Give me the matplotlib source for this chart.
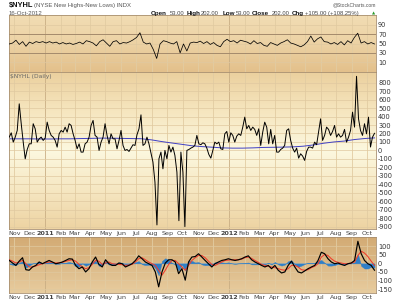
import numpy as np
import pandas as pd
import matplotlib
matplotlib.use('Agg')
import matplotlib.pyplot as plt
import matplotlib.dates as mdates
from matplotlib.colors import LinearSegmentedColormap

# ---------------- data ----------------
start_date = '2010-10-22'
end_date = '2012-10-16'

nyhl = [157, 208, 98, 157, 236, 550, 315, 98, -99, 11, 78, 78, 315, 255, 98, 137, 157, 118, 145, 334,
        236, 177, 157, 118, 39, 196, 236, 216, 275, 216, 315, 295, 196, 118, 19, 78, -20, -20, 78, 98,
        157, 295, 354, 177, 157, 0, 98, 157, 315,
        177, 78, 196, 137, 137, 19, 118, 236, 59, 0, 11, -12, 27, 67, 59, 185, 255, 420, 59, 78,
        157, 78, -28, -138, -374, -880, -99, -20, -217, 0, -99, 59, -20, 39, -59, -256, -830, -20, -256, -900,
        0, 11, 27, 39, 59, 177,
        78, 67, 90, 78, 27, -48, -91, 0, 98, 78, 98, 19, 11, 196, 224, 98, 208, 177, 98, 169,
        196, 177, 275, 393, 255, 295, 236, 275, 248, 177, 255, 59, 216, 334, 275, 78, 248, 78, 177, -20,
        -20, 11, 27, 59, 236,
        255, 118, 27, -20, 27, -91, -40, -67, -118, -12, 39, 39, 27, 98, 67, 216, 373, 118, 177, 275,
        248, 177, 224, 295, 157, 196, 157, 177, 248, 98, 157, 236, 452, 275, 875, 373, 236, 177, 315, 196,
        393, 40, 157, 202]

nyhl_ma = [137, 137, 137, 135, 135, 137, 137, 140, 142, 145, 145, 142, 140, 138, 125, 105, 88, 72, 55,
           45, 38, 30, 27, 27, 30, 35, 37, 39, 42, 50, 65, 85, 100, 110, 128, 140, 148]

rsi = [49, 51, 57, 48, 54, 44, 53, 50, 54, 52, 54, 51, 54, 51, 53, 49, 52, 49, 51, 48,
       50, 53, 49, 56, 54, 51, 45, 54, 58, 51, 44, 54, 56, 49, 52, 51, 54, 58, 63, 73,
       53, 49, 51, 37, 18, 49, 56, 54, 51, 49, 54, 30, 49, 34, 51, 53, 52, 55,
       50, 54, 48, 52, 46, 43, 54, 59, 54, 56, 51, 57, 55, 53, 49, 56, 50, 52, 46, 44,
       52, 49, 46, 51, 54, 58, 51, 49, 46, 43, 47, 54, 66, 53, 60, 64, 54, 53, 49, 52,
       48, 54, 47, 56, 51, 63, 72, 51, 54, 49, 52, 49]

macd = [17, 2, -12, 13, 33, -37, -40, -21, -12, 8, -2, 8, 17, 8, -2, 2, 8, 17, 27, 25,
        -12, -31, -21, -50, -31, 8, 37, -6, -21, 21, -2, -12, -12, 2, -2, -21, -12, -2, 17, 44,
        27, 8, -2, -12, -50, -137, -50, 2, 21, 21, 8, -60, -31, -98, 8, 37, 40, 56,
        37, 17, -2, -21, -2, 8, 17, 21, 27, 21, 17, 21, 27, 37, 44, 21, 8, -2, -12, -21,
        -12, -31, -12, -40, -56, -50, -12, 13, -21, -50, -56, -44, -31, -21, -12, 17, 65, 56, 27, 8,
        -2, 2, -6, -12, -2, 2, 17, 129, 56, 17, -2, -12, -40]

signal = [21, 13, 2, 8, 17, -2, -21, -21, -15, -8, -2, 4, 8, 6, 2, 4, 6, 12, 17, 21,
          13, -6, -21, -31, -25, -6, 17, 13, -6, 2, 8, -2, -4, -6, -8, -12, -10, -6, 8, 27,
          33, 21, 8, -2, -12, -40, -69, -40, -6, 17, 17, -2, -21, -40, -12, 17, 33, 46,
          46, 33, 13, -6, -12, -2, 8, 17, 19, 21, 21, 21, 25, 33, 37, 29, 17, 6, -6, -12,
          -17, -21, -25, -31, -37, -40, -31, -12, -12, -21, -37, -40, -37, -25, -17, -2, 37, 52, 46, 27,
          13, 6, 2, -2, -2, 2, 8, 46, 71, 60, 40, 13, -12]

hist = [-3, -8, -10, 4, 12, -25, -14, 0, 2, 12, 0, 3, 7, 2, -3, -2, 2, 4, 8, 3,
        -18, -18, 0, -14, -5, 10, 15, -14, -11, 14, -7, -7, -6, 6, 4, -7, -2, 3, 7, 13,
        -5, -10, -8, -8, -28, -70, 14, 30, 20, 3, -7, -42, -8, -42, 15, 15, 5, 8,
        -6, -11, -10, -10, 7, 7, 6, 3, 6, 0, -3, 0, 1, 3, 5, -6, -6, -6, -4, -6,
        4, -7, 9, -6, -13, -7, 13, 18, -6, -20, -13, -3, 4, 3, 4, 13, 20, 3, -13, -13,
        -10, -3, -6, -7, 0, 0, 6, 55, -15, -30, -30, -20, -25]

month_labels = ['Nov', 'Dec', '2011', 'Feb', 'Mar', 'Apr', 'May', 'Jun', 'Jul', 'Aug', 'Sep', 'Oct',
                'Nov', 'Dec', '2012', 'Feb', 'Mar', 'Apr', 'May', 'Jun', 'Jul', 'Aug', 'Sep', 'Oct']
main_ticks = list(range(-900, 801, 100))
rsi_ticks = [10, 30, 50, 70, 90]
macd_ticks = [-150, -100, -50, 0, 50, 100]

# ---------------- figure ----------------
W, H = 400, 303
fig = plt.figure(figsize=(W / 100, H / 100), dpi=100)
fig.patch.set_facecolor('white')


def px_axes(x0, y0, x1, y1):
    return fig.add_axes([x0 / W, 1 - y1 / H, (x1 - x0) / W, (y1 - y0) / H])


s = mdates.date2num(pd.Timestamp(start_date))
e = mdates.date2num(pd.Timestamp(end_date))


def xs(n):
    return np.linspace(s, e, n)


month_starts = mdates.date2num(pd.date_range('2010-11-01', '2012-10-01', freq='MS'))
year_starts = mdates.date2num(pd.to_datetime(['2011-01-01', '2012-01-01']))


def gradient(ax, stops):
    cmap = LinearSegmentedColormap.from_list('g', stops)
    grad = np.linspace(1, 0, 256).reshape(-1, 1)
    ax.imshow(grad, cmap=cmap, aspect='auto', extent=[0, 1, 0, 1],
              transform=ax.transAxes, zorder=0, interpolation='bilinear')


def style(ax, ylim, yticks, grid_h, xlabels=True):
    ax.set_xlim(s - 0.5, e + 3)
    ax.set_ylim(*ylim)
    for m in month_starts:
        c = '#c9ae84' if m in year_starts else '#e2cca2'
        ax.axvline(m, color=c, lw=0.6, zorder=1)
    for g in grid_h:
        ax.axhline(g, color='#e0c9a0', lw=0.5, zorder=1)
    ax.yaxis.tick_right()
    ax.set_yticks(yticks)
    ax.set_yticklabels([str(t) for t in yticks])
    ax.tick_params(axis='y', labelsize=4.8, pad=1.5, length=0, colors='#333333')
    ax.set_xticks(month_starts)
    if xlabels:
        ax.set_xticklabels(month_labels)
        for lab in ax.get_xticklabels():
            if lab.get_text().startswith('20'):
                lab.set_fontweight('bold')
                lab.set_color('#111111')
                lab.set_fontsize(5.3)
    else:
        ax.set_xticklabels([])
    ax.tick_params(axis='x', labelsize=4.6, pad=1.2, length=0, colors='#444444')
    for sp in ax.spines.values():
        sp.set_color('#a88f70')
        sp.set_linewidth(0.6)


# RSI panel
ax1 = px_axes(9, 15, 376, 72)
gradient(ax1, ['#e3c08b', '#ecd2a4', '#f2ddb4'])
style(ax1, (-11, 111), rsi_ticks, [10, 50, 90], xlabels=False)
ax1.axhline(70, color='#a48a6c', lw=0.7, zorder=1)
ax1.axhline(30, color='#a48a6c', lw=0.7, zorder=1)
ax1.plot(xs(len(rsi)), rsi, color='black', lw=0.55, zorder=3)

# Main panel
ax2 = px_axes(9, 72, 376, 229)
gradient(ax2, ['#edd3a2', '#f6e7c2', '#fcf8df', '#f6e6bf', '#ebd09e'])
style(ax2, (-928, 926), main_ticks, main_ticks)
ax2.plot(xs(len(nyhl_ma)), nyhl_ma, color='#3f3fc4', lw=0.7, zorder=2)
ax2.plot(xs(len(nyhl)), nyhl, color='black', lw=0.7, zorder=3)
ax2.text(0.004, 0.985, '$NYHL (Daily)', transform=ax2.transAxes, fontsize=4.3,
         color='#666666', va='top', ha='left', zorder=4)

# MACD panel
ax3 = px_axes(9, 237, 376, 293)
gradient(ax3, ['#e8cc9e', '#dcba88', '#d3ab74'])
style(ax3, (-173, 154), macd_ticks, macd_ticks)
xm = xs(len(hist))
ax3.fill_between(xm, 0, hist, color='#2f7fc8', lw=0.3, zorder=2)
ax3.plot(xs(len(signal)), signal, color='#f03c2c', lw=0.75, zorder=3)
ax3.plot(xs(len(macd)), macd, color='black', lw=0.85, zorder=4)

# ---------------- header text ----------------
HF = 'Liberation Sans'


def t(x, y, txt, **kw):
    fig.text(x / W, 1 - y / H, txt, va='center', family=HF, **kw)


t(9, 5.5, '$NYHL', fontsize=5.4, fontweight='bold', color='#111111')
t(34, 5.5, '(NYSE New Highs-New Lows) INDX', fontsize=4.3, color='#555555')
t(9, 13.5, '16-Oct-2012', fontsize=4.4, color='#555555')
t(376, 5, '@StockCharts.com', fontsize=3.6, color='#555555', ha='right')
parts = [(151, 'Open', True), (169.5, '53.00', False), (186.5, 'High', True), (201, '202.00', False),
         (222.5, 'Low', True), (235.5, '53.00', False), (252, 'Close', True), (271.5, '202.00', False),
         (292, 'Chg', True), (305, '+105.00 (+108.25%)', False)]
for x, txt, b in parts:
    t(x, 13.5, txt, fontsize=4.5 if b else 4.2, fontweight='bold' if b else 'normal',
      color='#111111' if b else '#444444')
fig.text(373.5 / W, 1 - 13.5 / H, '\u25b2', fontsize=3.0, color='#2a9a2a', ha='center',
         va='center', family='DejaVu Sans')

fig.savefig('out.png', dpi=100, facecolor='white')
